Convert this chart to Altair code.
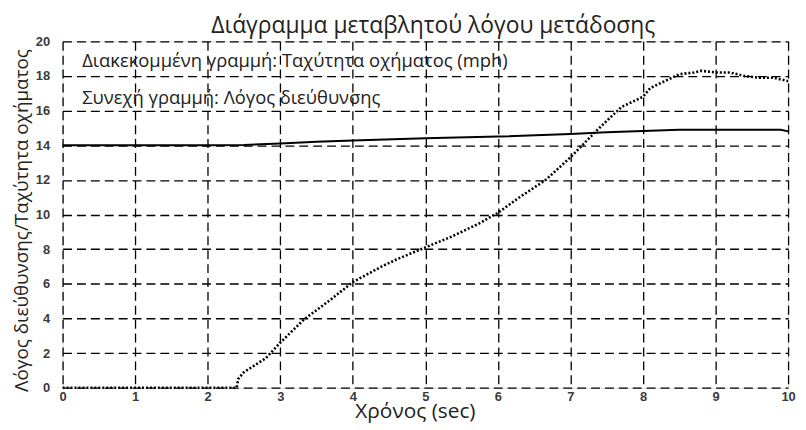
import altair as alt
import pandas as pd

# Vehicle speed (dotted line)
speed_t = [0, 0.5, 1, 1.5, 2, 2.4, 2.42, 2.5, 2.8, 3.0, 3.33, 3.7, 4.0, 4.4, 4.6, 5.0, 5.35, 5.75,
           6.0, 6.3, 6.66, 7.0, 7.35, 7.7, 8.0, 8.1, 8.5, 8.7, 8.8, 9.0, 9.2, 9.4, 9.6, 9.8, 10.0]
speed_v = [0, 0, 0, 0, 0, 0, 0.5, 0.9, 1.7, 2.6, 3.95, 5.1, 6.1, 7.0, 7.4, 8.1, 8.7, 9.5,
           10.1, 11.0, 12.0, 13.3, 14.8, 16.2, 16.8, 17.3, 18.1, 18.2, 18.3, 18.2, 18.2, 18.0, 17.9, 17.9, 17.7]

# Steering ratio (solid line)
ratio_t = [0, 2.0, 2.5, 3.0, 3.5, 4.0, 5.0, 6.0, 7.0, 7.5, 8.0, 8.5, 9.0, 9.5, 9.9, 10.0]
ratio_v = [14.0, 14.0, 14.02, 14.1, 14.2, 14.27, 14.4, 14.5, 14.65, 14.75, 14.82, 14.9, 14.9, 14.9, 14.9, 14.8]

x_ticks = list(range(0, 11))
y_ticks = list(range(0, 21, 2))

ann_x = [0.27, 0.27]
ann_y = [18.85, 16.75]
ann_text = ["Διακεκομμένη γραμμή: Ταχύτητα οχήματος (mph)", "Συνεχή γραμμή: Λόγος διεύθυνσης"]

df_speed = pd.DataFrame({"t": speed_t, "v": speed_v})
df_ratio = pd.DataFrame({"t": ratio_t, "v": ratio_v})
df_ann = pd.DataFrame({"t": ann_x, "v": ann_y, "text": ann_text})

xscale = alt.Scale(domain=[0, 10], nice=False)
yscale = alt.Scale(domain=[0, 20], nice=False)

common = dict(grid=True, gridDash=[9, 5], gridColor="black", gridWidth=1.3, gridOpacity=1,
              ticks=False, domain=False, labelFont="Liberation Sans", labelFontSize=13,
              labelFontWeight="bold", labelColor="#3a3a3a", labelOverlap=False,
              labelFlush=False, format="d", titleFont="Open Sans", titleFontWeight="normal",
              titleColor="#222")

xaxis = alt.Axis(values=x_ticks, title="Χρόνος (sec)", labelPadding=3,
                 titleFontSize=21, titleBaseline="alphabetic", titleY=30, titleX=355,
                 titleAlign="center", **common)
yaxis = alt.Axis(values=y_ticks, title="Λόγος διεύθυνσης/Ταχύτητα οχήματος", labelPadding=13,
                 titleFontSize=19, titleBaseline="alphabetic", titleX=-35, titleY=180,
                 titleAlign="center", **common)

X = alt.X("t:Q", scale=xscale, axis=xaxis)
Y = alt.Y("v:Q", scale=yscale, axis=yaxis)

speed = alt.Chart(df_speed).mark_line(color="black", strokeWidth=2.6, strokeDash=[2, 2]).encode(
    x=X, y=Y)
ratio = alt.Chart(df_ratio).mark_line(color="black", strokeWidth=2).encode(x=X, y=Y)
ann = alt.Chart(df_ann).mark_text(align="left", baseline="middle", font="Open Sans",
                                  fontSize=18.5, color="#222").encode(
    x=X, y=Y, text="text:N")

chart = alt.layer(speed, ratio, ann).properties(
    width=731, height=349,
    autosize=alt.AutoSizeParams(type="none"),
    padding={"left": 55, "top": 32, "right": 10, "bottom": 38},
    title=alt.TitleParams("Διάγραμμα μεταβλητού λόγου μετάδοσης", font="Open Sans",
                          fontSize=23, fontWeight="normal", color="#222", offset=6,
                          dx=8, dy=9),
).configure_view(stroke="black", strokeWidth=1.5).configure(background="white")

chart.save("out.html", embed_options={"renderer": "svg", "actions": False})
